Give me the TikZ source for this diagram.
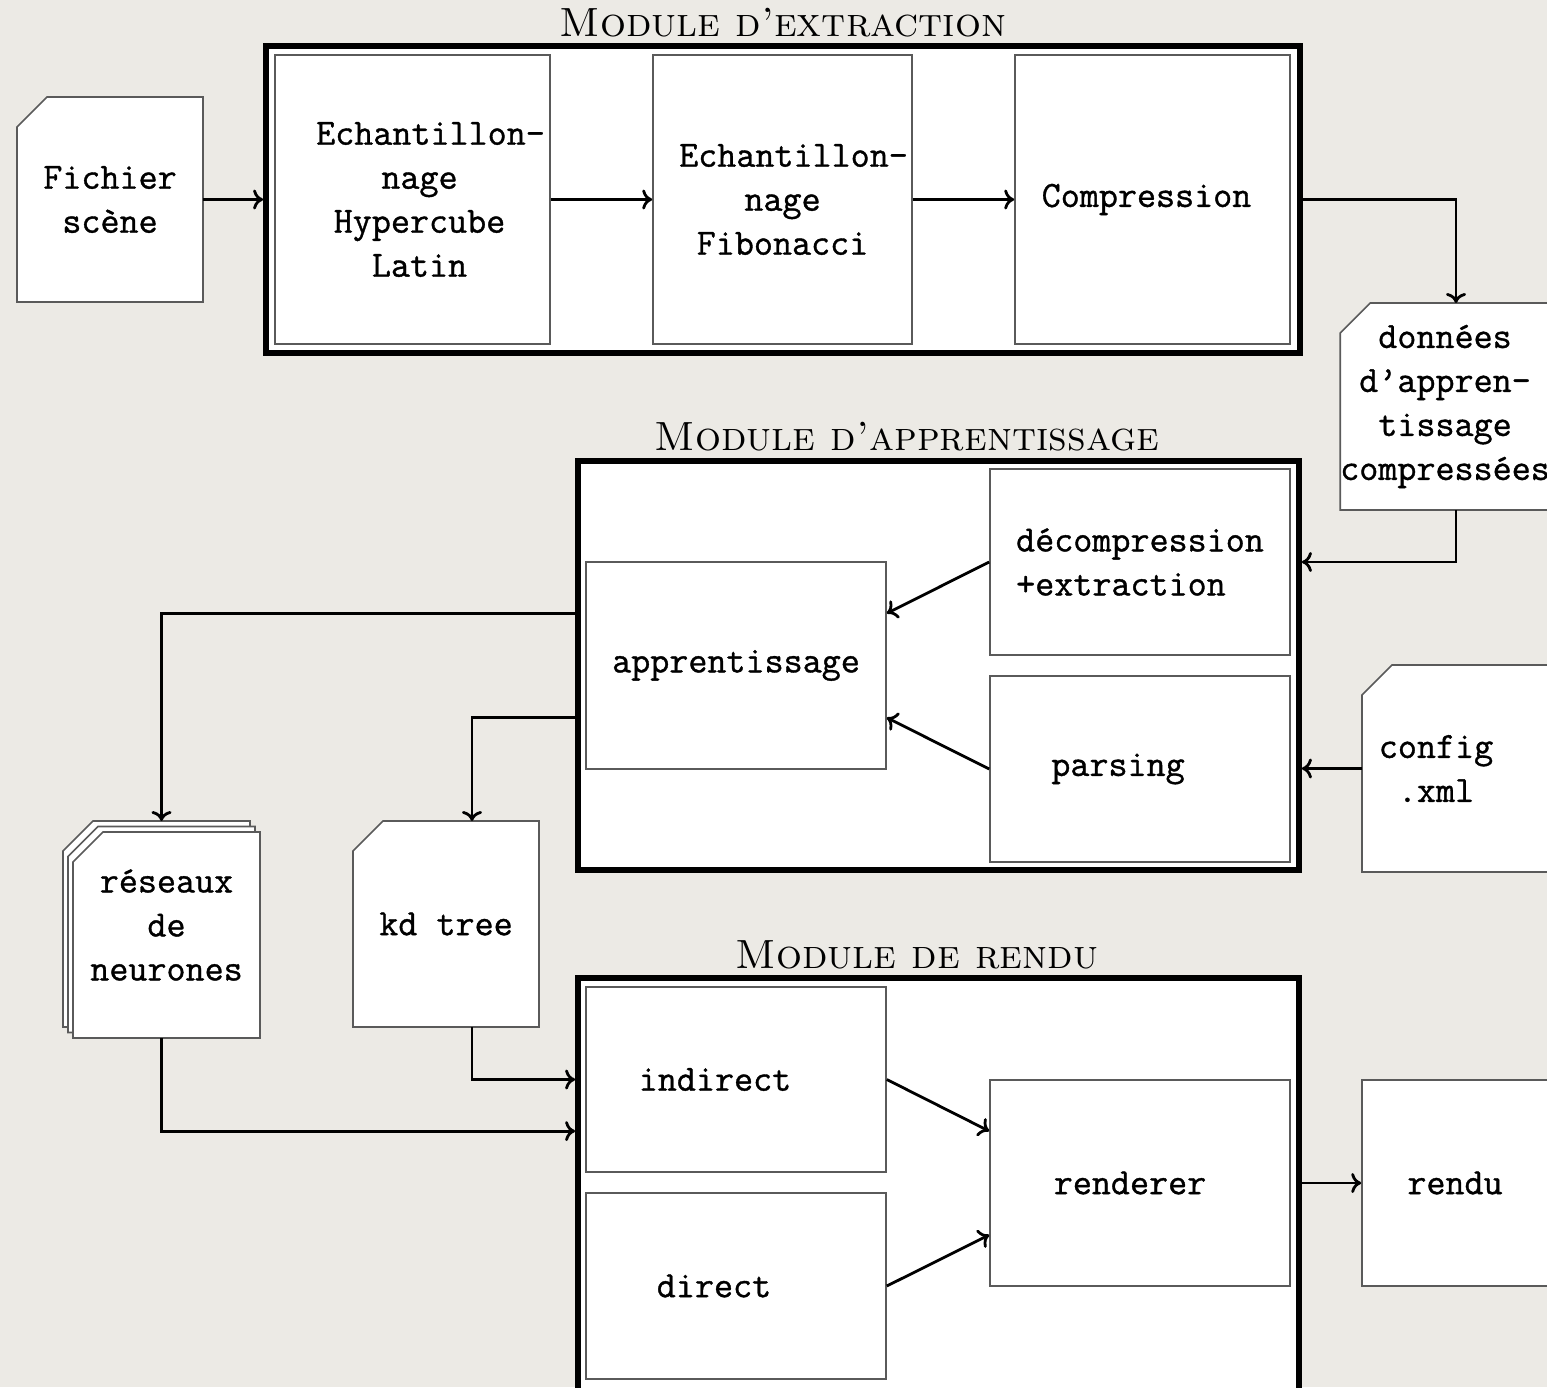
\documentclass[tikz,border=0pt]{standalone}
\usepackage{fontspec}
\usetikzlibrary{calc,arrows.meta}
\newfontfamily\boxtt{Latin Modern Mono}[FakeBold=1.0]
\definecolor{pagebg}{RGB}{236,234,229}
\definecolor{boxline}{RGB}{90,90,90}
\pgfdeclarelayer{back}
\pgfsetlayers{back,main}
\tikzset{
  pbox/.style={draw=boxline, line width=0.8pt, fill=white, rectangle,
    font=\fontsize{18.5}{22}\selectfont\boxtt, align=center, inner sep=0pt},
  docnode/.style={rectangle, draw=none, outer sep=0pt, inner sep=0pt,
    font=\fontsize{18.5}{22}\selectfont\boxtt, align=center},
  docline/.style={draw=boxline, line width=0.8pt, fill=white, line join=miter},
  modframe/.style={draw=black, line width=2.9pt, fill=white, rectangle},
  modtitle/.style={font=\fontsize{20.4}{24}\selectfont\scshape, anchor=base, inner sep=0pt},
  arr/.style={-{To[length=5pt,width=10pt]}, line width=1.4pt, black},
}
\begin{document}
\begin{tikzpicture}[x=0.5pt, y=-0.5pt]
\useasboundingbox (0,0) rectangle (1547,1387);

% ---------- module frames ----------
\node[modframe, minimum width=517pt, minimum height=153.5pt] (ext) at (783,199.5) {};
\node[modframe, minimum width=360.5pt, minimum height=204.5pt] (app) at (938.5,665.5) {};
\node[modframe, minimum width=360.5pt, minimum height=207.5pt] (ren) at (938.5,1185.5) {};

\node[modtitle] (text) at (783,36) {Module d’extraction};
\node[modtitle] (tapp) at (907,450) {Module d’apprentissage};
\node[modtitle] (tren) at (917,968) {Module de rendu};

% ---------- extraction ----------
\node[pbox, minimum width=137.5pt, minimum height=144.5pt] (ech1) at (412.5,199.5)
  {\hspace*{18pt}Echantillon-\\\hspace*{7pt}nage\\\hspace*{7pt}Hypercube\\\hspace*{7pt}Latin};
\node[pbox, minimum width=129.5pt, minimum height=144.5pt] (ech2) at (782.5,199.5)
  {\hspace*{11pt}Echantillon-\\nage\\Fibonacci};
\node[pbox, minimum width=137.5pt, minimum height=144.5pt] (comp) at (1152.5,199.5)
  {Compression\hspace*{6pt}};

% ---------- apprentissage ----------
\node[pbox, minimum width=150pt, minimum height=93pt, align=left] (decomp) at (1140,562)
  {décompression\\+extraction};
\node[pbox, minimum width=150pt, minimum height=93pt] (pars) at (1140,769) {parsing\hspace*{22pt}};
\node[pbox, minimum width=150pt, minimum height=103.5pt] (appr) at (736,665.5) {apprentissage};

% ---------- rendu ----------
\node[pbox, minimum width=150pt, minimum height=92.5pt] (ind) at (736,1079.5) {indirect\hspace*{21pt}};
\node[pbox, minimum width=150pt, minimum height=93pt] (dir) at (736,1286) {direct\hspace*{22pt}};
\node[pbox, minimum width=150pt, minimum height=103pt] (rdr) at (1140,1183) {renderer\hspace*{10pt}};
\node[pbox, minimum width=93pt, minimum height=103pt] (rendu) at (1455,1183) {rendu};

% ---------- documents ----------
\node[docnode, minimum width=93pt, minimum height=102.5pt] (fich) at (110,199.5) {Fichier\\scène};
\node[docnode, minimum width=103pt, minimum height=103.5pt] (donn) at (1445,406.5)
  {données\\d’appren-\\tissage\\compressées};
\node[docnode, minimum width=93pt, minimum height=103.5pt] (conf) at (1455,768.5)
  {config\hspace*{19pt}\\.xml\hspace*{19pt}};
\node[docnode, minimum width=93pt, minimum height=103pt] (kd) at (446,924) {kd tree};
\node[docnode, minimum width=93.5pt, minimum height=103pt] (rn) at (166.5,935)
  {\parbox[c][103pt][c]{93.5pt}{\centering réseaux\\de\\neurones\par\vspace*{10pt}}};

% ---------- helper coordinates ----------
\coordinate (a1) at ($(appr.north east)!0.25!(appr.south east)$);
\coordinate (a2) at ($(appr.north east)!0.75!(appr.south east)$);
\coordinate (b1) at ($(rdr.north west)!0.25!(rdr.south west)$);
\coordinate (b2) at ($(rdr.north west)!0.75!(rdr.south west)$);
\coordinate (rtop) at ([shift={(-2.5pt,5.5pt)}]rn.north);

% ---------- connectors ----------
\draw[arr] (fich.east) -- (fich.east -| ext.west);
\draw[arr] (ech1.east) -- (ech2.west);
\draw[arr] (ech2.east) -- (comp.west);
\draw[arr] (comp.east -| ext.east) -| ([xshift=5.5pt]donn.north);
\draw[arr] ([xshift=5.5pt]donn.south) |- (decomp.west -| app.east);
\draw[arr] (conf.west) -- (conf.west -| app.east);
\draw[arr] (decomp.west) -- (a1);
\draw[arr] (pars.west) -- (a2);
\draw[arr] (a1 -| app.west) -| (rtop);
\draw[arr] (a2 -| app.west) -| ([xshift=13pt]kd.north);
\draw[arr] ([xshift=13pt]kd.south) |- (ind.east -| ren.west);
\draw[arr] ([xshift=-2.5pt]rn.south) |- (b1 -| ren.west);
\draw[arr] (ind.east) -- (b1);
\draw[arr] (dir.east) -- (b2);
\draw[arr] (rdr.east -| ren.east) -- (rendu.west);

% ---------- background layer: page and document outlines ----------
\begin{pgfonlayer}{back}
  \fill[pagebg] (0,0) rectangle (1547,1387);
  \foreach \n in {fich,donn,conf,kd}{
    \filldraw[docline] (\n.south west) -- ([yshift=-15pt]\n.north west)
      -- ([xshift=15pt]\n.north west) -- (\n.north east) -- (\n.south east) -- cycle;
  }
  % stacked documents for neural networks
  \filldraw[docline] ([shift={(-5pt,5.5pt)}]rn.south west) -- ([shift={(-5pt,-9.5pt)}]rn.north west)
    -- ([shift={(10pt,5.5pt)}]rn.north west) -- ([shift={(-5pt,5.5pt)}]rn.north east)
    -- ([shift={(-5pt,5.5pt)}]rn.south east) -- cycle;
  \filldraw[docline] ([shift={(-2.5pt,2.75pt)}]rn.south west) -- ([shift={(-2.5pt,-12.25pt)}]rn.north west)
    -- ([shift={(12.5pt,2.75pt)}]rn.north west) -- ([shift={(-2.5pt,2.75pt)}]rn.north east)
    -- ([shift={(-2.5pt,2.75pt)}]rn.south east) -- cycle;
  \filldraw[docline] (rn.south west) -- ([yshift=-15pt]rn.north west)
    -- ([xshift=15pt]rn.north west) -- (rn.north east) -- (rn.south east) -- cycle;
\end{pgfonlayer}
\end{tikzpicture}
\end{document}
